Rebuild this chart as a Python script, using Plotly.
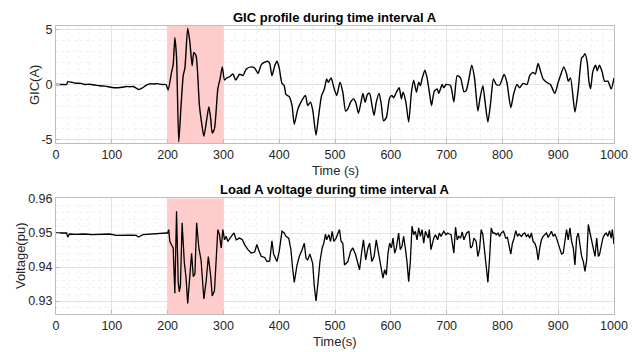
import plotly.graph_objects as go

# ---------------- data ----------------
gic_t = [0, 10, 19, 21, 28, 36, 45, 52, 60, 70, 78, 88, 98, 108, 118, 126, 133, 138, 143, 148,
         155, 162, 168, 175, 182, 190, 197, 201, 207, 210, 213, 216, 220, 224, 228, 231, 236, 240,
         244, 247, 251, 257, 261, 265, 270, 274, 277, 280, 284, 290, 294, 298, 302, 306, 311, 317,
         322, 329, 335, 341, 350, 356, 362, 368, 375, 380, 383, 387, 392, 396, 400, 405, 409, 412,
         418, 423, 427, 433, 439, 447, 451, 456, 460, 466, 470, 476, 481, 485, 488, 493, 498, 503,
         509, 514, 519, 523, 528, 533, 537, 542, 547, 550, 554, 558, 562, 566, 570, 574, 579, 583,
         587, 592, 598, 602, 605, 610, 615, 619, 622, 627, 632, 637, 641, 646, 650, 653, 656, 661,
         665, 670, 673, 678, 683, 686, 692, 695, 699, 707, 713, 719, 725, 731, 735, 740, 745, 750,
         756, 760, 765, 769, 774, 779, 784, 789, 795, 803, 808, 815, 820, 826, 831, 837, 844, 849,
         855, 859, 864, 869, 873, 879, 886, 894, 900, 905, 910, 915, 918, 922, 930, 936, 942, 945,
         948, 952, 955, 958, 962, 967, 970, 974, 979, 983, 989, 995, 1000]
gic_a = [0, 0, 0, 0.25, 0.2, 0.12, 0.1, 0.0, 0.02, -0.05, -0.12, -0.15, -0.25, -0.3, -0.25, -0.18,
         -0.2, -0.18, -0.3, -0.45, -0.3, -0.05, 0.06, 0.05, 0.08, 0.0, 0.0, -0.5, 1.1, 1.8, 4.25,
         2.5, -5.2, -2.0, 0.8, 1.5, 5.1, 3.8, 1.7, 2.9, 2.6, -1.9, -3.5, -4.7, -3.2, -2.0, -3.0,
         -4.4, -4.0, -0.4, 0.5, 1.6, 0.4, 0.6, 0.7, 0.95, 0.4, 0.93, 0.8, 1.4, 1.6, 1.5, 1.0, 1.8,
         2.05, 2.1, 1.9, 0.8, 1.7, 2.1, 1.5, 0.1, -0.1, -0.9, -1.1, -1.9, -3.6, -2.3, -1.6, -1.0,
         -1.9, -1.6, -2.3, -4.6, -3.1, -1.0, -0.4, 0.5, 0.2, 0.6, -0.3, -1.0, 0.2, -0.7, -2.4, -2.2,
         -1.6, -1.3, -1.6, -2.6, -1.5, -0.8, -1.6, -0.9, -0.8, -1.8, -2.8, -1.6, -0.8, -1.8, -3.3,
         -3.0, -1.2, -1.0, -1.2, -0.7, -0.3, -1.3, -0.7, -1.6, -3.4, -0.7, 0.4, -0.7, 0.2, -0.1,
         0.5, 1.3, 0.6, -1.0, -1.9, -0.6, -0.4, -0.8, 0.0, -0.3, 0.0, -0.1, -1.6, 0.8, 0.6, -0.65,
         -0.55, 0.5, 1.75, 0.6, -2.4, -1.2, -0.1, -1.6, -3.4, -1.6, 0.5, 0.0, -0.05, 0.9, 0.2, -2.1,
         -0.9, 0.0, -0.3, 0.1, 0.0, 0.8, 1.1, 0.95, 1.9, 1.1, 0.5, 0.2, 0.0, -0.8, 0.2, 0.95, 1.6,
         0.95, 0.3, 0.6, -2.5, -0.4, 2.4, 2.55, 2.8, 2.0, 0.3, -0.4, 1.15, 1.75, 1.25, 1.75, 1.1,
         0.3, 0.3, -0.4, 0.6]

volt_t = [0, 5, 10, 15, 19, 21, 24, 35, 50, 65, 80, 96, 108, 118, 126, 136, 144, 148, 156, 168,
          180, 190, 198, 200, 202, 204, 207, 210, 213, 216, 219, 221, 223, 226, 230, 233, 236, 240,
          243, 246, 249, 252, 256, 260, 265, 269, 273, 277, 280, 284, 287, 290, 293, 296, 299, 302,
          305, 308, 314, 319, 323, 329, 334, 338, 344, 350, 356, 360, 363, 368, 374, 378, 383, 387,
          390, 396, 400, 405, 409, 412, 417, 421, 424, 427, 432, 436, 441, 445, 448, 451, 455, 460,
          463, 466, 470, 473, 477, 480, 483, 485, 489, 492, 495, 498, 502, 505, 508, 511, 514, 517,
          520, 523, 528, 532, 537, 541, 544, 548, 551, 555, 559, 562, 566, 570, 574, 578, 583, 586,
          589, 592, 595, 598, 601, 604, 607, 610, 614, 617, 620, 623, 626, 629, 632, 635, 638, 641,
          644, 647, 650, 653, 656, 659, 662, 667, 669, 672, 677, 680, 684, 687, 690, 695, 699, 702,
          705, 708, 713, 716, 719, 722, 725, 728, 731, 733, 736, 740, 743, 746, 749, 753, 756, 759,
          762, 765, 767, 770, 774, 777, 780, 783, 786, 789, 792, 795, 798, 802, 806, 809, 812, 815,
          818, 821, 824, 827, 830, 834, 837, 840, 843, 846, 849, 852, 855, 858, 861, 864, 867, 870,
          873, 876, 879, 882, 885, 888, 891, 894, 897, 902, 906, 909, 912, 915, 918, 921, 924, 927,
          930, 933, 936, 939, 942, 945, 948, 951, 954, 957, 960, 963, 966, 969, 972, 974, 977, 980,
          983, 986, 989, 992, 995, 997, 1000]
volt_pu = [0.9500, 0.9500, 0.9499, 0.9500, 0.9500, 0.9488, 0.9497, 0.9496, 0.9497, 0.9495, 0.9496,
           0.9497, 0.9493, 0.9494, 0.9495, 0.9494, 0.9493, 0.9488, 0.9495, 0.9497, 0.9498, 0.9499,
           0.9500, 0.9500, 0.9510, 0.9475, 0.9467, 0.9456, 0.9323, 0.9564, 0.9357, 0.9327, 0.9345,
           0.9530, 0.9412, 0.9370, 0.9293, 0.9387, 0.9440, 0.9372, 0.9380, 0.9530, 0.9456, 0.9420,
           0.9306, 0.9357, 0.9431, 0.9377, 0.9315, 0.9330, 0.9436, 0.9510, 0.9495, 0.9456, 0.9510,
           0.9480, 0.9490, 0.9475, 0.9490, 0.9500, 0.9480, 0.9485, 0.9480, 0.9466, 0.9451, 0.9441,
           0.9444, 0.9466, 0.9451, 0.9431, 0.9428, 0.9416, 0.9418, 0.9477, 0.9438, 0.9416, 0.9446,
           0.9505, 0.9500, 0.9490, 0.9485, 0.9451, 0.9397, 0.9355, 0.9406, 0.9431, 0.9451, 0.9470,
           0.9426, 0.9421, 0.9438, 0.9411, 0.9342, 0.9300, 0.9362, 0.9416, 0.9456, 0.9470, 0.9497,
           0.9480, 0.9495, 0.9475, 0.9505, 0.9475, 0.9485, 0.9497, 0.9510, 0.9475, 0.9470, 0.9406,
           0.9411, 0.9416, 0.9446, 0.9456, 0.9436, 0.9411, 0.9392, 0.9446, 0.9480, 0.9421, 0.9456,
           0.9470, 0.9416, 0.9431, 0.9480, 0.9441, 0.9392, 0.9367, 0.9392, 0.9377, 0.9441, 0.9470,
           0.9456, 0.9485, 0.9441, 0.9456, 0.9500, 0.9451, 0.9461, 0.9490, 0.9456, 0.9416, 0.9357,
           0.9416, 0.9520, 0.9495, 0.9505, 0.9480, 0.9515, 0.9490, 0.9510, 0.9470, 0.9505, 0.9485,
           0.9510, 0.9451, 0.9485, 0.9495, 0.9480, 0.9500, 0.9490, 0.9505, 0.9495, 0.9500, 0.9497,
           0.9495, 0.9441, 0.9517, 0.9480, 0.9490, 0.9485, 0.9503, 0.9480, 0.9490, 0.9500, 0.9505,
           0.9456, 0.9461, 0.9485, 0.9475, 0.9431, 0.9451, 0.9510, 0.9495, 0.9466, 0.9426, 0.9355,
           0.9426, 0.9515, 0.9500, 0.9500, 0.9495, 0.9500, 0.9490, 0.9500, 0.9505, 0.9485, 0.9487,
           0.9456, 0.9438, 0.9470, 0.9485, 0.9507, 0.9490, 0.9497, 0.9490, 0.9497, 0.9500, 0.9490,
           0.9495, 0.9485, 0.9500, 0.9475, 0.9470, 0.9456, 0.9421, 0.9456, 0.9480, 0.9490, 0.9495,
           0.9500, 0.9487, 0.9495, 0.9505, 0.9490, 0.9497, 0.9485, 0.9461, 0.9438, 0.9441, 0.9475,
           0.9510, 0.9480, 0.9515, 0.9475, 0.9456, 0.9406, 0.9485, 0.9500, 0.9456, 0.9431, 0.9416,
           0.9387, 0.9421, 0.9525, 0.9500, 0.9480, 0.9456, 0.9431, 0.9485, 0.9431, 0.9436, 0.9456,
           0.9485, 0.9495, 0.9500, 0.9490, 0.9507, 0.9485, 0.9510, 0.9467]

interval_a = [200, 300]
x_ticks = [0, 100, 200, 300, 400, 500, 600, 700, 800, 900, 1000]
gic_ticks = [-5, 0, 5]
gic_range = [-5.3, 5.3]
volt_ticks = [0.93, 0.94, 0.95, 0.96]
volt_tick_text = ["0.93", "0.94", "0.95", "0.96"]
volt_range = [0.9261, 0.9602]

# ---------------- figure ----------------
FONT = "Liberation Sans, Arial, sans-serif"
TXT = "#262626"
BOX = "#BDBDBD"
GRID = "#E3E3E3"
MINOR = "#F1F1F1"
BAND = "rgb(255,204,204)"

OFF = 8.0                      # page body margin in the browser (left and top)
W, H = 639.0 - OFF, 352.0 - OFF
L, R = 56.0 - OFF, 25.0
PW = W - L - R

def px(xpix):
    return (xpix - OFF - L) / PW

def py(ypix):
    return 1 - (ypix - OFF) / H

fig = go.Figure()
# shaded interval A (drawn as traces so that they cover the grid)
fig.add_trace(go.Scatter(x=[interval_a[0], interval_a[1], interval_a[1], interval_a[0]],
                         y=[gic_range[0], gic_range[0], gic_range[1], gic_range[1]],
                         xaxis="x", yaxis="y", mode="lines", fill="toself", fillcolor=BAND,
                         line=dict(width=0, color=BAND), showlegend=False, hoverinfo="skip"))
fig.add_trace(go.Scatter(x=[interval_a[0], interval_a[1], interval_a[1], interval_a[0]],
                         y=[volt_range[0], volt_range[0], volt_range[1], volt_range[1]],
                         xaxis="x2", yaxis="y2", mode="lines", fill="toself", fillcolor=BAND,
                         line=dict(width=0, color=BAND), showlegend=False, hoverinfo="skip"))
fig.add_trace(go.Scatter(x=gic_t, y=gic_a, mode="lines", xaxis="x", yaxis="y",
                         line=dict(color="black", width=1.4, shape="spline", smoothing=0.6),
                         showlegend=False, hoverinfo="skip"))
fig.add_trace(go.Scatter(x=volt_t, y=volt_pu, mode="lines", xaxis="x2", yaxis="y2",
                         line=dict(color="black", width=1.3),
                         showlegend=False, hoverinfo="skip"))

top_dom = [py(143.0), py(26.0)]
bot_dom = [py(314.3), py(198.3)]

def xax(anchor):
    return dict(domain=[0, 1], anchor=anchor, range=[0, 1000], tickvals=x_ticks,
                showline=True, linecolor=BOX, linewidth=1, mirror=True,
                ticks="inside", ticklen=4, tickcolor=BOX,
                showgrid=True, gridcolor=GRID, gridwidth=1,
                minor=dict(dtick=20, showgrid=True, gridcolor=MINOR, griddash="dot"),
                zeroline=False, tickfont=dict(family=FONT, size=12.5, color=TXT),
                layer="above traces", fixedrange=True)

def yax(anchor, dom, rng, tickvals, ticktext, minor_dt):
    return dict(domain=dom, anchor=anchor, range=rng, tickvals=tickvals, ticktext=ticktext,
                showline=True, linecolor=BOX, linewidth=1, mirror=True,
                ticks="inside", ticklen=4, tickcolor=BOX,
                showgrid=True, gridcolor=GRID, gridwidth=1,
                minor=dict(dtick=minor_dt, tick0=0, showgrid=True, gridcolor=MINOR, griddash="dot"),
                zeroline=False, tickfont=dict(family=FONT, size=12.5, color=TXT),
                layer="above traces", fixedrange=True)

fig.update_layout(
    width=W, height=H,
    margin=dict(l=L, r=R, t=0, b=0, autoexpand=False),
    paper_bgcolor="white", plot_bgcolor="white",
    font=dict(family=FONT, color=TXT),
    xaxis=xax("y"),
    yaxis=yax("x", top_dom, gic_range, gic_ticks, [str(v) for v in gic_ticks], 1),
    xaxis2=xax("y2"),
    yaxis2=yax("x2", bot_dom, volt_range, volt_ticks, volt_tick_text, 0.002),
)

ann = [
    dict(text="<b>GIC profile during time interval A</b>", x=0.5, xref="paper",
         y=py(17.0), yref="paper", yanchor="middle", showarrow=False,
         font=dict(family=FONT, size=13, color="black")),
    dict(text="<b>Load A voltage during time interval A</b>", x=0.5, xref="paper",
         y=py(189.0), yref="paper", yanchor="middle", showarrow=False,
         font=dict(family=FONT, size=13, color="black")),
    dict(text="Time (s)", x=0.5, xref="paper", y=py(171.0), yref="paper",
         yanchor="middle", showarrow=False, font=dict(family=FONT, size=13, color=TXT)),
    dict(text="Time(s)", x=0.5, xref="paper", y=py(341.0), yref="paper",
         yanchor="middle", showarrow=False, font=dict(family=FONT, size=13, color=TXT)),
    dict(text="GIC(A)", x=px(35.0), xref="paper", y=py(85.0), yref="paper",
         xanchor="center", yanchor="middle", textangle=-90, showarrow=False,
         font=dict(family=FONT, size=13, color=TXT)),
    dict(text="Voltage(pu)", x=px(21.0), xref="paper", y=py(256.0), yref="paper",
         xanchor="center", yanchor="middle", textangle=-90, showarrow=False,
         font=dict(family=FONT, size=13, color=TXT)),
]
fig.update_layout(annotations=ann)

fig.write_html("out.html")
